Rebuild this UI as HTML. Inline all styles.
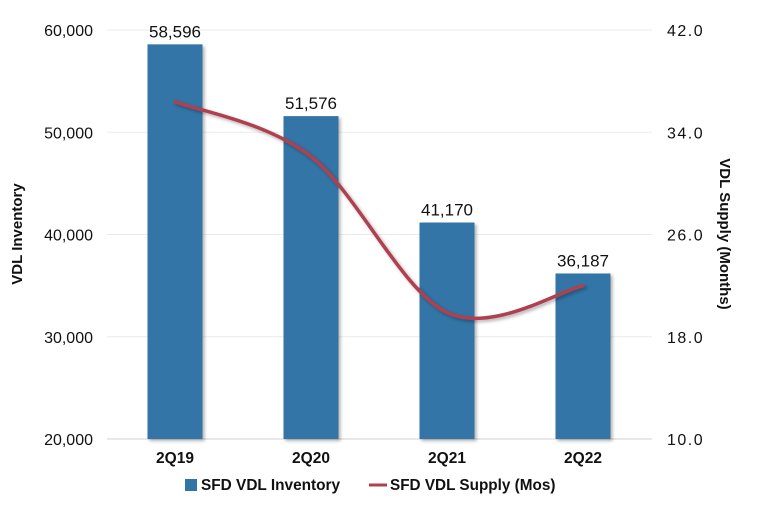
<!DOCTYPE html>
<html><head><meta charset="utf-8"><style>
body{margin:0;background:#fff;font-family:"Liberation Sans",sans-serif}
svg text{font-family:"Liberation Sans",sans-serif;fill:#111}
</style></head><body>
<svg id="c" width="768" height="508">
<defs><filter id="sh" x="-20%" y="-20%" width="140%" height="140%"><feDropShadow dx="2" dy="2" stdDeviation="1.5" flood-color="#000" flood-opacity="0.3"/></filter></defs>
<g id="grid"></g><g id="bars"></g><g id="line"></g><g id="labels"></g>
<text x="22" y="234" font-size="15" font-weight="bold" text-anchor="middle" transform="rotate(-90 22 234)">VDL Inventory</text>
<text x="720" y="234" font-size="15" font-weight="bold" text-anchor="middle" transform="rotate(90 720 234)">VDL Supply (Months)</text>
<g>
<rect x="185" y="479" width="12" height="12" fill="#3274a6"/>
<text x="201" y="490" font-size="15.4" font-weight="bold">SFD VDL Inventory</text>
<line x1="369" y1="485" x2="387" y2="485" stroke="#b0404f" stroke-width="3"/>
<text x="390" y="490" font-size="15.3" font-weight="bold">SFD VDL Supply (Mos)</text>
</g>
</svg>
<script>
const categories=["2Q19","2Q20","2Q21","2Q22"];
const inventory=[58596,51576,41170,36187];
const supply=[36.4,32.1,19.9,22.0];
const leftTicks=[20000,30000,40000,50000,60000];
const rightTicks=[10,18,26,34,42];
const NS="http://www.w3.org/2000/svg";
const x0=107,bw=136,yTop=30,yBot=439;
const yL=v=>yBot-(v-20000)/40000*(yBot-yTop);
const yR=v=>yBot-(v-10)/32*(yBot-yTop);
const xc=i=>x0+bw*i+bw/2;
function mk(t,a,p){const e=document.createElementNS(NS,t);for(const k in a)e.setAttribute(k,a[k]);p.appendChild(e);return e;}
const G=document.getElementById('grid'),B=document.getElementById('bars'),L=document.getElementById('line'),T=document.getElementById('labels');
leftTicks.forEach((v,i)=>{
 const g=mk('line',{x1:x0,x2:652,y1:yL(v),y2:yL(v),stroke:i==0?'#d0d0d0':'#ebebeb','stroke-width':1},G);
 
 
 const t=mk('text',{x:93,y:yL(v)+6,'font-size':16,'text-anchor':'end'},T);t.textContent=v.toLocaleString('en-US');
 
 
});
rightTicks.forEach(v=>{
 const t=mk('text',{x:667,y:yR(v)+6,'font-size':16,'letter-spacing':1.5},T);t.textContent=v.toFixed(1);
 
 
});
categories.forEach((c,i)=>{
 const w=55,y=yL(inventory[i]);
 const r=mk('rect',{x:xc(i)-w/2,y:y,width:w,height:yBot-y,fill:'#3274a6',filter:'url(#sh)'},B);
 
 
 const t=mk('text',{x:xc(i),y:y-7,'font-size':17,'text-anchor':'middle'},T);t.textContent=inventory[i].toLocaleString('en-US');
 
 
 const c2=mk('text',{x:xc(i),y:463,'font-size':15.5,'font-weight':'bold','text-anchor':'middle'},T);c2.textContent=c;
 
 
});
const P=supply.map((v,i)=>[xc(i),yR(v)]);
let d='M'+P[0][0]+','+P[0][1];
for(let i=0;i<P.length-1;i++){
 const p0=P[Math.max(i-1,0)],p1=P[i],p2=P[i+1],p3=P[Math.min(i+2,P.length-1)];
 const k=6;
 d+=` C${p1[0]+(p2[0]-p0[0])/k},${p1[1]+(p2[1]-p0[1])/k} ${p2[0]-(p3[0]-p1[0])/k},${p2[1]-(p3[1]-p1[1])/k} ${p2[0]},${p2[1]}`;
}
const pl=mk('path',{d:d,fill:'none',stroke:'#b0404f','stroke-width':3.5,'stroke-linecap':'round',filter:'url(#sh)'},L);


</script>
</body></html>
